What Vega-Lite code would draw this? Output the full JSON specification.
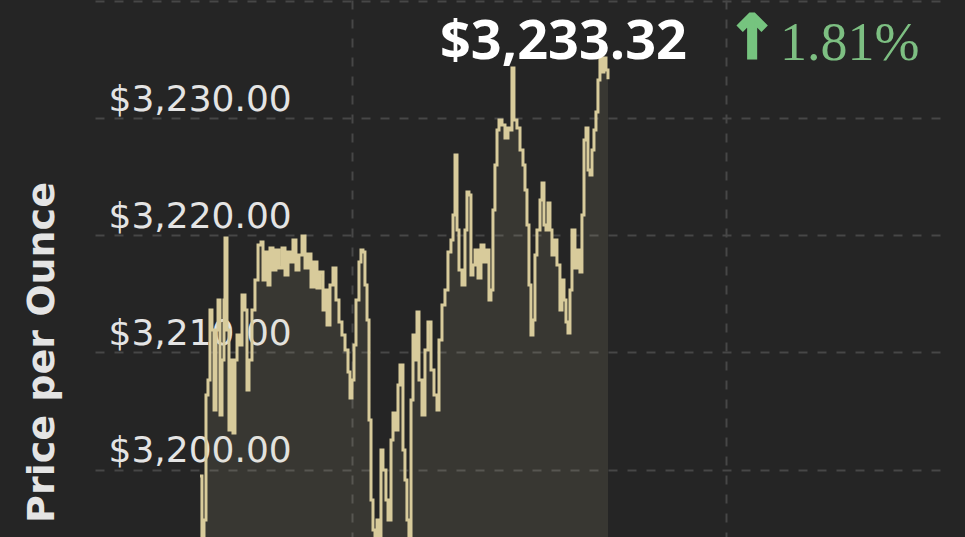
{
  "$schema": "https://vega.github.io/schema/vega-lite/v6.json",
  "width": 850,
  "height": 537,
  "autosize": {"type": "none"},
  "padding": {"left": 95, "right": 20, "top": 0, "bottom": 0},
  "background": "#252525",
  "config": {"view": {"stroke": null}},
  "datasets": {
    "gold": [
      {"hour": 9.565, "price": 3199.46}, {"hour": 9.597, "price": 3193.57}, {"hour": 9.629, "price": 3195.70},
      {"hour": 9.661, "price": 3206.37}, {"hour": 9.693, "price": 3207.65}, {"hour": 9.725, "price": 3213.62},
      {"hour": 9.757, "price": 3211.92}, {"hour": 9.790, "price": 3205.09}, {"hour": 9.822, "price": 3211.92},
      {"hour": 9.854, "price": 3214.48}, {"hour": 9.886, "price": 3204.66}, {"hour": 9.918, "price": 3209.36},
      {"hour": 9.950, "price": 3214.48}, {"hour": 9.966, "price": 3219.77}, {"hour": 9.998, "price": 3211.92},
      {"hour": 10.030, "price": 3203.38}, {"hour": 10.062, "price": 3209.36}, {"hour": 10.094, "price": 3203.13},
      {"hour": 10.126, "price": 3209.36}, {"hour": 10.159, "price": 3211.49}, {"hour": 10.207, "price": 3210.64},
      {"hour": 10.239, "price": 3214.90}, {"hour": 10.287, "price": 3213.62}, {"hour": 10.319, "price": 3206.80},
      {"hour": 10.351, "price": 3209.36}, {"hour": 10.399, "price": 3213.62}, {"hour": 10.447, "price": 3216.18},
      {"hour": 10.496, "price": 3219.17}, {"hour": 10.544, "price": 3219.43}, {"hour": 10.576, "price": 3216.18},
      {"hour": 10.608, "price": 3218.57}, {"hour": 10.656, "price": 3215.76}, {"hour": 10.688, "price": 3218.91},
      {"hour": 10.736, "price": 3217.04}, {"hour": 10.784, "price": 3218.74}, {"hour": 10.832, "price": 3217.21},
      {"hour": 10.881, "price": 3218.91}, {"hour": 10.929, "price": 3216.61}, {"hour": 10.977, "price": 3218.57},
      {"hour": 11.025, "price": 3217.72}, {"hour": 11.057, "price": 3219.60}, {"hour": 11.105, "price": 3217.04},
      {"hour": 11.153, "price": 3218.32}, {"hour": 11.202, "price": 3219.94}, {"hour": 11.250, "price": 3217.21},
      {"hour": 11.298, "price": 3218.40}, {"hour": 11.346, "price": 3215.59}, {"hour": 11.394, "price": 3217.72},
      {"hour": 11.442, "price": 3215.50}, {"hour": 11.490, "price": 3216.87}, {"hour": 11.539, "price": 3213.62},
      {"hour": 11.571, "price": 3215.33}, {"hour": 11.603, "price": 3212.34}, {"hour": 11.651, "price": 3215.76},
      {"hour": 11.699, "price": 3217.21}, {"hour": 11.747, "price": 3214.48}, {"hour": 11.795, "price": 3212.60},
      {"hour": 11.843, "price": 3211.49}, {"hour": 11.892, "price": 3210.21}, {"hour": 11.940, "price": 3208.33},
      {"hour": 11.972, "price": 3206.11}, {"hour": 12.004, "price": 3207.65}, {"hour": 12.036, "price": 3210.64},
      {"hour": 12.068, "price": 3214.48}, {"hour": 12.116, "price": 3217.72}, {"hour": 12.148, "price": 3218.74},
      {"hour": 12.180, "price": 3218.57}, {"hour": 12.212, "price": 3215.76}, {"hour": 12.245, "price": 3212.77},
      {"hour": 12.277, "price": 3204.24}, {"hour": 12.309, "price": 3197.41}, {"hour": 12.341, "price": 3194.85},
      {"hour": 12.373, "price": 3193.57}, {"hour": 12.405, "price": 3195.70}, {"hour": 12.437, "price": 3193.57},
      {"hour": 12.469, "price": 3201.67}, {"hour": 12.501, "price": 3199.97}, {"hour": 12.549, "price": 3197.41},
      {"hour": 12.582, "price": 3195.70}, {"hour": 12.630, "price": 3202.53}, {"hour": 12.662, "price": 3204.83},
      {"hour": 12.710, "price": 3203.38}, {"hour": 12.742, "price": 3207.22}, {"hour": 12.774, "price": 3208.93},
      {"hour": 12.822, "price": 3201.67}, {"hour": 12.854, "price": 3199.11}, {"hour": 12.886, "price": 3195.70},
      {"hour": 12.918, "price": 3193.57}, {"hour": 12.951, "price": 3205.94}, {"hour": 12.983, "price": 3211.49},
      {"hour": 13.015, "price": 3209.36}, {"hour": 13.047, "price": 3213.45}, {"hour": 13.079, "price": 3207.65},
      {"hour": 13.127, "price": 3204.66}, {"hour": 13.175, "price": 3210.21}, {"hour": 13.223, "price": 3212.60},
      {"hour": 13.272, "price": 3208.50}, {"hour": 13.320, "price": 3206.37}, {"hour": 13.368, "price": 3205.09},
      {"hour": 13.400, "price": 3211.06}, {"hour": 13.448, "price": 3214.05}, {"hour": 13.496, "price": 3215.33},
      {"hour": 13.544, "price": 3218.57}, {"hour": 13.592, "price": 3219.60}, {"hour": 13.625, "price": 3221.73},
      {"hour": 13.657, "price": 3226.85}, {"hour": 13.689, "price": 3220.45}, {"hour": 13.721, "price": 3217.04},
      {"hour": 13.769, "price": 3215.76}, {"hour": 13.817, "price": 3220.45}, {"hour": 13.849, "price": 3223.69},
      {"hour": 13.881, "price": 3223.44}, {"hour": 13.913, "price": 3216.61}, {"hour": 13.945, "price": 3217.46},
      {"hour": 13.978, "price": 3218.74}, {"hour": 14.026, "price": 3216.35}, {"hour": 14.074, "price": 3219.17},
      {"hour": 14.122, "price": 3217.72}, {"hour": 14.170, "price": 3218.74}, {"hour": 14.202, "price": 3214.48},
      {"hour": 14.234, "price": 3215.33}, {"hour": 14.266, "price": 3222.16}, {"hour": 14.298, "price": 3226.00},
      {"hour": 14.331, "price": 3228.99}, {"hour": 14.363, "price": 3229.84}, {"hour": 14.411, "price": 3229.41},
      {"hour": 14.459, "price": 3228.30}, {"hour": 14.507, "price": 3229.16}, {"hour": 14.555, "price": 3228.99},
      {"hour": 14.571, "price": 3234.28}, {"hour": 14.603, "price": 3229.84}, {"hour": 14.651, "price": 3229.16},
      {"hour": 14.700, "price": 3227.28}, {"hour": 14.748, "price": 3226.00}, {"hour": 14.780, "price": 3223.86},
      {"hour": 14.812, "price": 3220.88}, {"hour": 14.844, "price": 3215.76}, {"hour": 14.876, "price": 3211.49},
      {"hour": 14.908, "price": 3212.77}, {"hour": 14.940, "price": 3218.32}, {"hour": 14.972, "price": 3220.45},
      {"hour": 15.021, "price": 3223.01}, {"hour": 15.053, "price": 3224.46}, {"hour": 15.085, "price": 3220.88},
      {"hour": 15.117, "price": 3220.45}, {"hour": 15.149, "price": 3222.76}, {"hour": 15.181, "price": 3220.45},
      {"hour": 15.213, "price": 3218.32}, {"hour": 15.261, "price": 3219.60}, {"hour": 15.293, "price": 3217.46},
      {"hour": 15.341, "price": 3213.62}, {"hour": 15.374, "price": 3216.18}, {"hour": 15.406, "price": 3214.48},
      {"hour": 15.438, "price": 3212.60}, {"hour": 15.470, "price": 3211.66}, {"hour": 15.502, "price": 3215.33},
      {"hour": 15.534, "price": 3220.45}, {"hour": 15.582, "price": 3217.21}, {"hour": 15.614, "price": 3218.74},
      {"hour": 15.662, "price": 3216.87}, {"hour": 15.694, "price": 3221.73}, {"hour": 15.727, "price": 3228.13},
      {"hour": 15.759, "price": 3229.16}, {"hour": 15.791, "price": 3225.57}, {"hour": 15.823, "price": 3225.14},
      {"hour": 15.855, "price": 3227.28}, {"hour": 15.887, "price": 3228.99}, {"hour": 15.919, "price": 3230.52},
      {"hour": 15.951, "price": 3233.25}, {"hour": 15.983, "price": 3235.13}, {"hour": 16.015, "price": 3233.94},
      {"hour": 16.047, "price": 3235.13}, {"hour": 16.080, "price": 3234.11}, {"hour": 16.112, "price": 3233.32}
    ],
    "summary": [{"price": 3233.32, "change": 0.0181}]
  },
  "layer": [
    {
      "data": {"name": "gold"},
      "mark": {"type": "area", "color": "#dccfa0", "opacity": 0.11, "clip": true, "interpolate": "step-after"},
      "encoding": {
        "x": {
          "field": "hour", "type": "quantitative",
          "scale": {"domain": [7.88, 21.52], "nice": false, "zero": false},
          "axis": {
            "values": [12, 18], "grid": true, "gridColor": "#474747", "gridDash": [9, 10], "gridWidth": 2,
            "labels": false, "ticks": false, "domain": false, "title": null
          }
        },
        "y": {
          "field": "price", "type": "quantitative",
          "scale": {"domain": [3194.25, 3240.08], "nice": false, "zero": false},
          "axis": {
            "values": [3200, 3210, 3220, 3230, 3240], "format": "$,.2f",
            "labelExpr": "datum.value >= 3240 ? '' : datum.label",
            "grid": true, "gridColor": "#474747", "gridDash": [9, 10], "gridWidth": 2,
            "ticks": false, "domain": false,
            "labelAlign": "left", "labelPadding": -13, "labelBaseline": "alphabetic", "labelOffset": -8,
            "labelFont": "DejaVu Sans", "labelFontSize": 36, "labelColor": "#e4e4e4", "labelLimit": 0,
            "labelBound": false, "labelFlush": false, "labelOverlap": false,
            "title": "Price per Ounce", "titleFont": "DejaVu Sans", "titleFontSize": 38, "titleFontWeight": "bold",
            "titleColor": "#e4e4e4", "titleX": -42, "titleY": 352, "titleAngle": -90,
            "titleAlign": "center", "titleBaseline": "alphabetic", "titleLimit": 0
          }
        },
        "y2": {"datum": 3180}
      }
    },
    {
      "data": {"name": "gold"},
      "mark": {"type": "line", "color": "#d8cb9b", "strokeWidth": 3, "clip": true, "interpolate": "step-after"},
      "encoding": {
        "x": {"field": "hour", "type": "quantitative"},
        "y": {"field": "price", "type": "quantitative"}
      }
    },
    {
      "data": {"name": "summary"},
      "mark": {"type": "text", "align": "left", "baseline": "alphabetic", "font": "Open Sans", "fontWeight": "bold", "fontSize": 54, "color": "#ffffff"},
      "encoding": {
        "x": {"datum": 13.416, "type": "quantitative"},
        "y": {"datum": 3235.04, "type": "quantitative"},
        "text": {"field": "price", "type": "quantitative", "format": "$,.2f"}
      }
    },
    {
      "data": {"name": "summary"},
      "mark": {"type": "text", "text": "↑", "align": "center", "baseline": "middle", "font": "DejaVu Sans", "fontWeight": "bold", "fontSize": 60, "color": "#76c47f", "stroke": "#76c47f", "strokeWidth": 3},
      "encoding": {
        "x": {"datum": 18.422, "type": "quantitative"},
        "y": {"datum": 3236.67, "type": "quantitative"}
      }
    },
    {
      "data": {"name": "summary"},
      "mark": {"type": "text", "align": "left", "baseline": "alphabetic", "font": "Liberation Serif", "fontSize": 54, "color": "#7dbf82"},
      "encoding": {
        "x": {"datum": 18.872, "type": "quantitative"},
        "y": {"datum": 3234.96, "type": "quantitative"},
        "text": {"field": "change", "type": "quantitative", "format": ".2%"}
      }
    }
  ]
}
